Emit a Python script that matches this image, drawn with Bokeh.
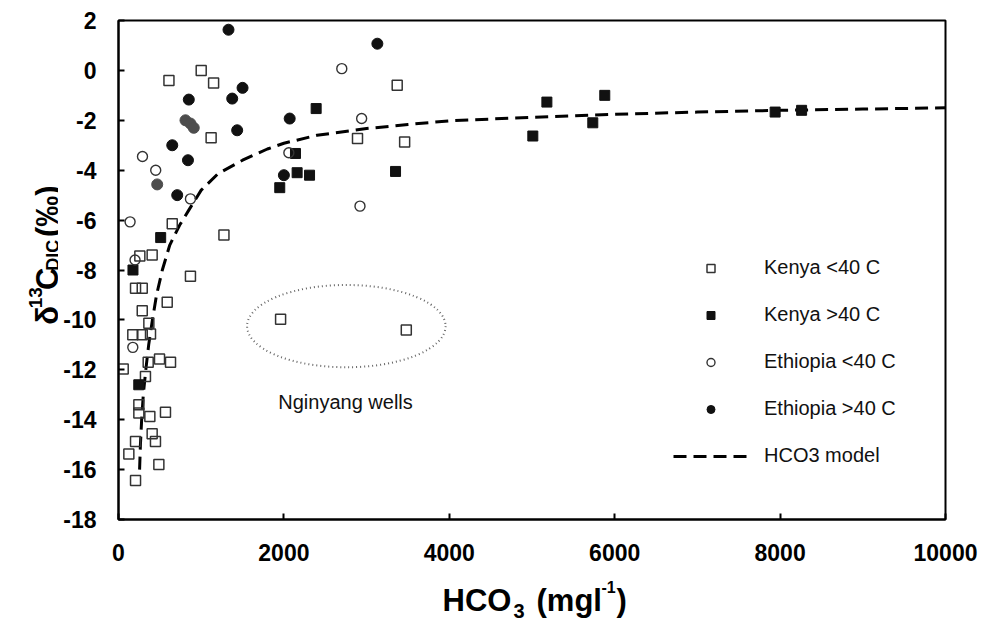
import math
from bokeh.plotting import figure
from bokeh.layouts import column, row
from bokeh.models import Range1d, FixedTicker, Label, Legend, LegendItem
from bokeh.embed import file_html
from bokeh.resources import INLINE

# ---------------- data ----------------
kenya_lt40_x = [1000, 610, 1150, 1120, 650, 1275, 3370, 2890, 3460, 258, 407, 870,
                206, 287, 589, 287, 367, 173, 287, 387, 359, 496, 629, 57, 326,
                246, 246, 379, 568, 407, 447, 206, 125, 488, 206, 1960, 3480]
kenya_lt40_y = [0.0, -0.4, -0.5, -2.7, -6.15, -6.6, -0.6, -2.73, -2.87, -7.44, -7.4, -8.25,
                -8.73, -8.73, -9.29, -9.63, -10.13, -10.6, -10.6, -10.57, -11.7, -11.57, -11.7, -11.97, -12.27,
                -13.4, -13.73, -13.87, -13.7, -14.56, -14.87, -14.87, -15.37, -15.8, -16.44, -9.97, -10.4]

kenya_gt40_x = [510, 2390, 2140, 2160, 2310, 1950, 3350, 5180, 5880, 5010, 5735, 7940, 8260, 175, 245]
kenya_gt40_y = [-6.7, -1.53, -3.33, -4.1, -4.2, -4.7, -4.05, -1.27, -1.0, -2.63, -2.1, -1.67, -1.6, -8.0, -12.6]

eth_lt40_x = [290, 450, 870, 140, 2700, 2940, 2060, 2920, 200, 173]
eth_lt40_y = [-3.45, -4.0, -5.15, -6.07, 0.07, -1.93, -3.3, -5.44, -7.6, -11.1]

eth_gt40_x = [1330, 1500, 850, 1375, 1435, 650, 840, 710, 2070, 3130, 2000]
eth_gt40_y = [1.63, -0.7, -1.17, -1.13, -2.4, -3.0, -3.6, -5.0, -1.93, 1.07, -4.2]
# Ethiopia >40 C points printed in a lighter (grey) tone in the scan
eth_gt40_grey_x = [810, 870, 910, 468]
eth_gt40_grey_y = [-2.0, -2.13, -2.3, -4.57]

model_x = [255, 265, 280, 300, 330, 365, 410, 460, 530, 620, 740, 850, 1000, 1200,
           1500, 1800, 2000, 2400, 3000, 3500, 4000, 5000, 6000, 7000, 8000, 9000, 10000]
model_y = [-16.0, -15.0, -14.0, -13.0, -12.0, -11.0, -10.0, -9.0, -8.0, -7.0, -6.2, -5.6, -4.8, -4.15,
           -3.6, -3.15, -2.92, -2.6, -2.33, -2.17, -2.02, -1.88, -1.76, -1.67, -1.6, -1.55, -1.5]

x_ticks = [0, 2000, 4000, 6000, 8000, 10000]
x_tick_labels = ["0", "2000", "4000", "6000", "8000", "10000"]
y_ticks = [-18, -16, -14, -12, -10, -8, -6, -4, -2, 0, 2]
y_tick_labels = ["-18", "-16", "-14", "-12", "-10", "-8", "-6", "-4", "-2", "0", "2"]
series_labels = ["Kenya <40 C", "Kenya >40 C", "Ethiopia <40 C", "Ethiopia >40 C", "HCO3 model"]
x_title_parts = ["HCO", "3", "(mgl", "-1", ")"]
y_title_parts = ["\u03b4", "13", "C", "DIC", "(\u2030)"]

group_label = "Nginyang wells"
group_center = (2755, -10.25)
group_size = (2400, 3.3)
group_label_pos = (2745, -13.28)

FONT = "Liberation Sans"

# layout sizes (px)
YLAB_W = 58
MAIN_LEFT, MAIN_RIGHT, MAIN_TOP, MAIN_BOTTOM = 60, 40, 20, 55
FRAME_W, FRAME_H = 827, 499
MAIN_H = MAIN_TOP + FRAME_H + MAIN_BOTTOM
TOTAL_W = YLAB_W + MAIN_LEFT + FRAME_W + MAIN_RIGHT
XLAB_H = 54

p = figure(frame_width=FRAME_W, frame_height=FRAME_H,
           x_range=Range1d(x_ticks[0], x_ticks[-1]), y_range=Range1d(y_ticks[0], y_ticks[-1]),
           output_backend="svg", toolbar_location=None,
           min_border_left=MAIN_LEFT, min_border_right=MAIN_RIGHT,
           min_border_top=MAIN_TOP, min_border_bottom=MAIN_BOTTOM)

p.xgrid.visible = False
p.ygrid.visible = False
p.background_fill_color = "white"
p.border_fill_color = "white"
p.outline_line_color = "black"
p.outline_line_width = 2
p.outline_line_alpha = 1.0

for ax, ticks, labels, standoff in ((p.xaxis, x_ticks, x_tick_labels, 24),
                                    (p.yaxis, y_ticks, y_tick_labels, 22)):
    ax.ticker = FixedTicker(ticks=ticks)
    ax.major_label_overrides = {t: s for t, s in zip(ticks, labels)}
    ax.minor_tick_line_color = None
    ax.major_tick_in = 6
    ax.major_tick_out = 0
    ax.major_tick_line_width = 2
    ax.major_tick_line_color = "black"
    ax.axis_line_width = 2
    ax.axis_line_color = "black"
    ax.major_label_text_font = FONT
    ax.major_label_text_font_style = "bold"
    ax.major_label_text_font_size = "23px"
    ax.major_label_text_color = "black"
    ax.major_label_standoff = standoff

# ellipse around Nginyang wells
p.ellipse(x=[group_center[0]], y=[group_center[1]], width=group_size[0], height=group_size[1],
          fill_color=None, line_color="#666666", line_width=2, line_dash="1 3")
p.add_layout(Label(x=group_label_pos[0], y=group_label_pos[1], text=group_label,
                   text_align="center", text_baseline="middle",
                   text_font=FONT, text_font_size="20px", text_color="#111111"))

# model curve
r_model = p.line(model_x, model_y, line_color="black", line_width=3, line_dash="13 7")

r_klt = p.scatter(kenya_lt40_x, kenya_lt40_y, marker="square", size=10,
                  fill_color=None, line_color="#333333", line_width=1.5)
r_kgt = p.scatter(kenya_gt40_x, kenya_gt40_y, marker="square", size=10,
                  fill_color="#111111", line_color="#111111", line_width=1)
r_elt = p.scatter(eth_lt40_x, eth_lt40_y, marker="circle", size=10,
                  fill_color=None, line_color="#333333", line_width=1.4)
r_egt = p.scatter(eth_gt40_x, eth_gt40_y, marker="circle", size=11,
                  fill_color="#111111", line_color="#111111", line_width=1)
p.scatter(eth_gt40_grey_x, eth_gt40_grey_y, marker="circle", size=11,
          fill_color="#4d4d4d", line_color="#4d4d4d", line_width=1)

legend = Legend(items=[LegendItem(label=series_labels[0], renderers=[r_klt]),
                       LegendItem(label=series_labels[1], renderers=[r_kgt]),
                       LegendItem(label=series_labels[2], renderers=[r_elt]),
                       LegendItem(label=series_labels[3], renderers=[r_egt]),
                       LegendItem(label=series_labels[4], renderers=[r_model])],
                location=(555, 52), padding=0, margin=0, spacing=24,
                glyph_width=75, glyph_height=20, label_height=20, label_standoff=16,
                label_text_font=FONT, label_text_font_size="20px", label_text_color="#111111",
                background_fill_alpha=0, border_line_color=None)
p.add_layout(legend)


# ---------------- axis titles (with sub/superscripts) in small text-only figures ----------------
# coordinates inside these helper figures are pixels: x from the left, y from the top
def text_fig(w, h):
    f = figure(width=w, height=h, x_range=Range1d(0, w), y_range=Range1d(0, h),
               x_axis_type=None, y_axis_type=None, output_backend="svg", toolbar_location=None,
               min_border=0, min_border_left=0, min_border_right=0, min_border_top=0, min_border_bottom=0)
    f.outline_line_color = None
    f.xgrid.visible = False
    f.ygrid.visible = False
    f.background_fill_color = "white"
    f.border_fill_color = "white"
    return f


def piece(fig, h, text, x, y_from_top, size, angle=0.0):
    fig.add_layout(Label(x=x, y=h - y_from_top, text=text, angle=angle, angle_units="rad",
                         text_font=FONT, text_font_style="bold", text_font_size=f"{size}px",
                         text_align="left", text_baseline="alphabetic", text_color="black"))


ylab = text_fig(YLAB_W, MAIN_H)
A = math.pi / 2
piece(ylab, MAIN_H, y_title_parts[0], 47, 350, 31, A)
piece(ylab, MAIN_H, y_title_parts[1], 35, 331, 19, A)
piece(ylab, MAIN_H, y_title_parts[2], 47, 310, 31, A)
piece(ylab, MAIN_H, y_title_parts[3], 52, 288, 18, A)
piece(ylab, MAIN_H, y_title_parts[4], 47, 249, 31, A)

xlab = text_fig(TOTAL_W, XLAB_H)
piece(xlab, XLAB_H, x_title_parts[0], 442, 26, 31)
piece(xlab, XLAB_H, x_title_parts[1], 513, 36, 20)
piece(xlab, XLAB_H, x_title_parts[2], 536, 26, 31)
piece(xlab, XLAB_H, x_title_parts[3], 601, 12, 16)
piece(xlab, XLAB_H, x_title_parts[4], 616, 26, 31)

layout = column(row(ylab, p, spacing=0), xlab, spacing=0)

open("out.html", "w").write(file_html(layout, INLINE))
